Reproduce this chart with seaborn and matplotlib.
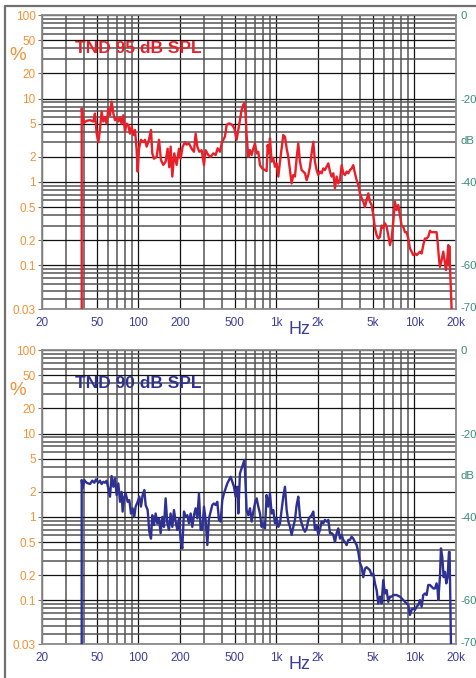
import matplotlib
matplotlib.use("Agg")
import matplotlib.pyplot as plt
import matplotlib.ticker as mticker
from matplotlib.lines import Line2D
import pandas as pd
import seaborn as sns


# =====================================================
# DATA
# =====================================================

red_freq = [
    38.8, 38.8, 40.3, 42.1, 44.6, 47.1, 48.4, 49.8, 51.2, 52.6, 54.1, 55.7,
    57.2, 58.8, 60.5, 62.2, 63.9, 65.8, 67.6, 69.5, 71.5, 73.5, 75.5, 77.7,
    79.9, 82.1, 84.5, 86.8, 89.3, 91.8, 94.4, 97.1, 98.7, 100.9, 104.3, 108.5,
    111.5, 114.7, 119.2, 123.3, 126, 129.6, 135.5, 140.9, 145.6, 151.4, 157.4,
    162.7, 167.3, 171.1, 176, 181.9, 189.2, 196.7, 202.3, 209.1, 217.4, 223.6,
    232.4, 243, 252.6, 259.7, 267.1, 276.1, 287.1, 298.5, 306.9, 320.9, 333.6,
    348.8, 362.6, 375, 389.9, 400.9, 412.1, 423.7, 435.7, 448, 460.6, 478.9,
    495.1, 514.8, 529.3, 544.2, 559.6, 575, 585, 598, 608, 625, 643, 661, 680,
    699, 719, 739, 760, 790, 826, 849, 864, 883, 898, 923, 949, 976, 1003,
    1032, 1061, 1091, 1121, 1153, 1186, 1219, 1254, 1289, 1325, 1362, 1401,
    1440, 1481, 1522, 1565, 1610, 1655, 1702, 1750, 1799, 1850, 1902, 1955,
    2011, 2067, 2126, 2185, 2247, 2311, 2376, 2443, 2512, 2583, 2656, 2731,
    2807, 2887, 2968, 3052, 3138, 3227, 3318, 3411, 3507, 3606, 3708, 3813,
    3920, 4031, 4144, 4261, 4381, 4505, 4632, 4762, 4896, 5034, 5176, 5322,
    5472, 5626, 5785, 5948, 6115, 6288, 6465, 6647, 6835, 7027, 7225, 7430,
    7639, 7854, 8075, 8303, 8537, 8777, 9025, 9280, 9542, 9810, 10090, 10370,
    10670, 10970, 11280, 11590, 11920, 12260, 12600, 12960, 13320, 13700,
    14080, 14480, 14730, 15060, 15310, 15740, 16190, 16650, 16920, 17310,
    17600, 17750, 17890, 18090, 18600,
]
red_pct = [
    0.03, 7.6, 5.1, 5.4, 5.5, 5.3, 6.6, 3.8, 3.0, 4.2, 7.0, 5.3,
    6.0, 5.0, 7.6, 6.3, 9.2, 6.6, 5.5, 5.8, 5.3, 6.0, 5.0, 6.3,
    4.0, 5.0, 4.8, 3.8, 4.6, 3.65, 4.2, 2.4, 1.33, 2.5, 3.2, 3.0,
    3.2, 2.65, 3.2, 4.2, 2.2, 1.9, 2.0, 3.2, 1.83, 1.6, 1.75,
    2.5, 1.5, 2.65, 1.16, 2.2, 1.6, 2.5, 1.9, 2.65, 3.0, 2.8,
    2.9, 2.5, 2.3, 3.8, 2.65, 2.3, 2.4, 1.6, 2.4, 2.1, 2.0,
    2.2, 2.1, 2.53, 2.3, 2.9, 3.2, 3.5, 4.8, 5.0, 5.0, 4.8,
    4.4, 3.2, 4.2, 5.5, 7.3, 8.4, 8.8, 6.5, 3.65, 2.0, 2.41, 2.1, 2.52,
    2.9, 2.2, 2.3, 1.59, 1.45, 1.39, 1.35, 2.77, 2.2, 3.33, 1.75, 1.92, 1.52, 1.67,
    1.16, 1.75, 2.52, 3.65, 3.48, 2.52, 2.0, 1.39, 0.96, 1.21, 1.16, 1.92,
    2.9, 1.75, 1.39, 1.33, 1.27, 1.05, 1.21, 1.52, 2.2, 3.03, 1.75, 1.39,
    1.21, 1.33, 1.27, 1.45, 1.39, 1.52, 1.67, 1.33, 1.16, 1.27, 0.84, 1.16,
    0.96, 1.05, 1.59, 1.27, 1.21, 1.33, 1.27, 1.39, 1.45, 1.59, 1.27, 1.05,
    0.92, 0.73, 0.64, 0.58, 0.5, 0.61, 0.73, 0.58, 0.53, 0.4, 0.28, 0.23,
    0.21, 0.22, 0.3, 0.28, 0.32, 0.29, 0.23, 0.175, 0.21, 0.33, 0.58, 0.46,
    0.53, 0.4, 0.3, 0.29, 0.25, 0.25, 0.21, 0.16, 0.146, 0.133, 0.139, 0.133,
    0.139, 0.146, 0.139, 0.175, 0.21, 0.21, 0.22, 0.26, 0.25, 0.25,
    0.25, 0.25, 0.19, 0.121, 0.096, 0.116, 0.146, 0.106, 0.088, 0.121,
    0.175, 0.1, 0.17, 0.101, 0.03,
]

blue_freq = [
    38.8, 38.8, 39.4, 40.5, 42.1, 44.6, 46.3, 47.9, 49.2, 51.2, 52.6, 54.1,
    55.7, 57.2, 58.8, 60.5, 62.2, 63.9, 65.8, 67.6, 69.5, 71.5, 73.5, 75.5,
    76.8, 79.0, 80.8, 83.5, 85.9, 88.3, 90.8, 93.3, 95.4, 98.7, 101.5, 104.3,
    107.3, 110.3, 112.8, 116.6, 119.9, 123.3, 126.0, 129.6, 133.3, 137.0,
    140.9, 144.8, 148.9, 153.1, 157.4, 161.9, 166.4, 171.1, 176.0, 180.9,
    186.0, 191.3, 196.7, 202.3, 207.9, 213.8, 219.8, 226.0, 232.4, 239.0,
    245.7, 252.6, 259.7, 267.1, 274.6, 282.3, 290.3, 298.5, 306.9, 315.6,
    324.4, 333.6, 343.0, 352.7, 362.6, 372.8, 383.3, 394.1, 405.3, 416.7,
    428.5, 440.6, 453.0, 465.8, 478.9, 492.4, 506.3, 520.6, 529.3, 544.2,
    559.6, 575.4, 585.1, 591.6, 608, 625, 643, 661, 680, 699, 719, 739, 760,
    781, 803, 826, 849, 873, 898, 923, 949, 976, 1003, 1032, 1061, 1091,
    1121, 1153, 1186, 1219, 1254, 1289, 1325, 1362, 1401, 1440, 1481, 1522,
    1565, 1610, 1655, 1702, 1750, 1799, 1850, 1902, 1955, 2011, 2067, 2126,
    2185, 2247, 2311, 2376, 2443, 2512, 2583, 2656, 2731, 2807, 2887, 2968,
    3052, 3138, 3227, 3318, 3411, 3507, 3606, 3708, 3813, 3920, 4031, 4144,
    4261, 4381, 4505, 4632, 4762, 4896, 5034, 5176, 5322, 5472, 5626, 5785,
    5948, 6115, 6288, 6465, 6647, 6835, 7027, 7225, 7430, 7639, 7854, 8075,
    8303, 8537, 8777, 9025, 9280, 9542, 9810, 10090, 10370, 10670, 10970,
    11280, 11590, 11920, 12260, 12600, 12960, 13320, 13700, 14080, 14480,
    14730, 14890, 15310, 15570, 15920, 16280, 16650, 17020, 17400, 17790,
    17990, 18190, 18400,
]
blue_pct = [
    0.03, 2.77, 2.2, 2.77, 2.57, 2.48, 2.72, 2.57, 2.82, 2.57, 2.72, 2.48,
    2.64, 2.57, 2.72, 2.2, 1.75, 3.09, 2.3, 2.9, 1.83, 2.52, 1.52, 2.0,
    1.16, 1.75, 1.92, 1.52, 1.59, 1.1, 1.27, 1.0, 1.33, 1.52, 1.75, 1.33,
    1.83, 2.1, 1.39, 1.21, 0.665, 0.55, 1.05, 0.8, 1.1, 0.84,
    0.96, 0.64, 1.0, 0.76, 1.67, 0.84, 0.7, 1.1, 0.76, 1.21,
    0.88, 0.7, 0.96, 0.53, 0.42, 1.16, 1.0, 1.05, 0.84, 1.1,
    0.76, 1.05, 1.27, 0.96, 1.92, 0.7, 0.7, 1.33, 0.92, 0.46,
    0.96, 1.16, 1.39, 1.45, 1.39, 1.52, 0.92, 0.88, 1.59, 1.92,
    2.2, 2.52, 2.77, 3.03, 2.64, 2.3, 1.75, 2.3, 1.1, 3.33,
    3.82, 4.39, 4.81, 3.65, 1.21, 1.05, 1.27, 0.88, 1.16, 1.45, 1.67, 1.33, 1.1,
    0.76, 0.84, 0.73, 1.83, 1.33, 1.92, 1.1, 1.21, 0.84, 0.96, 0.76, 0.84, 1.21,
    1.75, 2.3, 1.21, 0.88, 0.76, 0.61, 0.76, 0.92, 1.39, 1.75, 1.0, 0.84,
    0.73, 0.665, 0.73, 0.92, 1.0, 1.05, 1.16, 0.7, 0.8, 0.61, 0.7, 0.88,
    0.84, 0.92, 0.88, 0.92, 0.64, 0.64, 0.61, 0.5, 0.64, 0.73, 0.55, 0.61,
    0.53, 0.5, 0.46, 0.53, 0.53, 0.58, 0.55, 0.5, 0.46, 0.38, 0.28, 0.25,
    0.19, 0.24, 0.25, 0.24, 0.23, 0.2, 0.21, 0.16, 0.133, 0.092, 0.111, 0.092,
    0.175, 0.121, 0.133, 0.096, 0.111, 0.111, 0.116, 0.116, 0.116, 0.113, 0.111, 0.106,
    0.101, 0.096, 0.092, 0.088, 0.067, 0.077, 0.08, 0.077, 0.084, 0.088, 0.101,
    0.084, 0.116, 0.121, 0.116, 0.153, 0.153, 0.146, 0.139, 0.139, 0.16,
    0.133, 0.101, 0.19, 0.42, 0.33, 0.19, 0.22, 0.16, 0.19, 0.38,
    0.38, 0.101, 0.03,
]

x_ticks = [20, 50, 100, 200, 500, 1000, 2000, 5000, 10000, 20000]
x_labels = ["20", "50", "100", "200", "500", "1k", "2k", "5k", "10k", "20k"]
y_ticks = [0.03, 0.1, 0.2, 0.5, 1, 2, 5, 10, 20, 50, 100]
y_labels = ["0.03", "0.1", "0.2", "0.5", "1", "2", "5", "10", "20", "50", "100"]
db_ticks = [100, 10, 3.162, 1, 0.1, 0.0316]
db_labels = ["0", "-20", "dB", "-40", "-60", "-70"]

panels = [
    ("TND 95 dB SPL", red_freq, red_pct, "#e8202a"),
    ("TND 90 dB SPL", blue_freq, blue_pct, "#2e3192"),
]


# =====================================================
# STYLE
# =====================================================

sns.set_theme(style="white")
plt.rcParams["font.family"] = ["Liberation Sans", "DejaVu Sans"]

ORANGE = "#f39237"
XBLUE = "#3d3d99"
TEAL = "#3a8c72"


# =====================================================
# FIGURE
# =====================================================

fig = plt.figure(figsize=(4.76, 6.78), dpi=100)

ax_top = fig.add_axes([0.0882, 0.5442, 0.8697, 0.4336])
ax_bot = fig.add_axes([0.0882, 0.0501, 0.8697, 0.4336])

for ax, (title, freq, pct, color) in zip([ax_top, ax_bot], panels):

    df = pd.DataFrame({"freq": freq, "pct": pct})

    sns.lineplot(
        data=df,
        x="freq",
        y="pct",
        ax=ax,
        color=color,
        linewidth=1.7,
        sort=False,
        estimator=None,
        zorder=5
    )

    ax.set_xscale("log")
    ax.set_yscale("log")
    ax.set_xlim(20, 20000)
    ax.set_ylim(0.03, 100)

    ax.xaxis.set_major_locator(mticker.FixedLocator(x_ticks))
    ax.xaxis.set_major_formatter(mticker.FixedFormatter(x_labels))
    ax.yaxis.set_major_locator(mticker.FixedLocator(y_ticks))
    ax.yaxis.set_major_formatter(mticker.FixedFormatter(y_labels))
    ax.xaxis.set_minor_locator(mticker.LogLocator(base=10, subs=range(1, 10)))
    ax.yaxis.set_minor_locator(mticker.LogLocator(base=10, subs=range(1, 10)))
    ax.xaxis.set_minor_formatter(mticker.NullFormatter())
    ax.yaxis.set_minor_formatter(mticker.NullFormatter())

    ax.grid(which="minor", color="#555555", linewidth=1.1)
    ax.grid(which="major", color="#111111", linewidth=0.9)
    ax.set_axisbelow(True)

    ax.tick_params(axis="x", which="major", length=3, width=0.8,
                   color="#777777", pad=3, labelsize=8.5, labelcolor=XBLUE)
    ax.tick_params(axis="y", which="major", length=3, width=0.8,
                   color="#777777", pad=1.5, labelsize=8.5, labelcolor=ORANGE)
    ax.tick_params(which="minor", length=0)

    for spine in ax.spines.values():
        spine.set_color("#8a8a8a")
        spine.set_linewidth(1.3)

    ax.set_xlabel("")
    ax.set_ylabel("")

    # right dB scale (cut by the page edge, as in the scan)
    ax_db = ax.twinx()
    ax_db.set_yscale("log")
    ax_db.set_ylim(0.03, 100)
    ax_db.yaxis.set_major_locator(mticker.FixedLocator(db_ticks))
    ax_db.yaxis.set_major_formatter(mticker.FixedFormatter(db_labels))
    ax_db.yaxis.set_minor_locator(mticker.NullLocator())
    ax_db.tick_params(axis="y", length=0, pad=3.5, labelsize=8.2, labelcolor=TEAL)
    for spine in ax_db.spines.values():
        spine.set_visible(False)

    ax.text(0.08, 0.885, title, transform=ax.transAxes, color=color,
            fontsize=12.5, fontweight="bold", va="center", ha="left", zorder=6)

    ax.text(-0.058, 0.862, "%", transform=ax.transAxes, color=ORANGE,
            fontsize=13.5, va="center", ha="center")

    ax.text(0.623, -0.068, "Hz", transform=ax.transAxes, color=XBLUE,
            fontsize=13, va="center", ha="center")


# page frame (left and top edges of the scanned page)
fig.add_artist(Line2D([0.0095, 0.0095], [0.0, 0.991], transform=fig.transFigure,
                      color="#707070", linewidth=1.6))
fig.add_artist(Line2D([0.0095, 1.0], [0.991, 0.991], transform=fig.transFigure,
                      color="#707070", linewidth=1.6))

fig.savefig("out.png", dpi=100)
plt.close(fig)
